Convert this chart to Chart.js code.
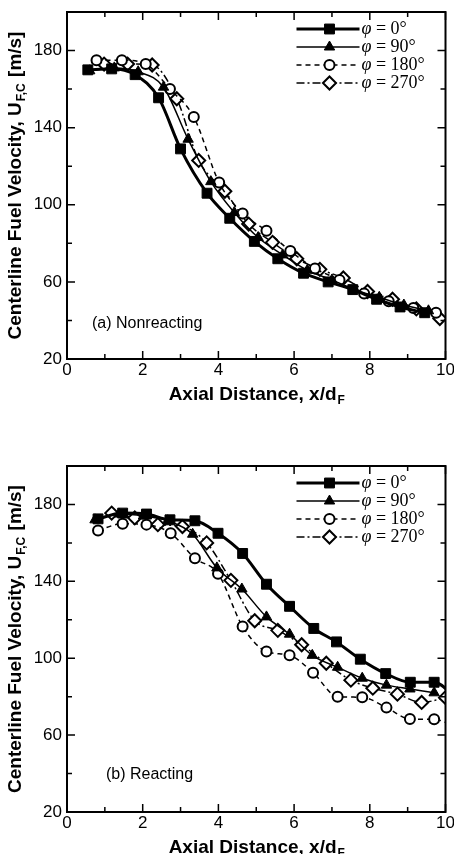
<!DOCTYPE html>
<html>
<head>
<meta charset="utf-8">
<script src="https://cdn.jsdelivr.net/npm/chart.js@4"></script>
<style>
  body { margin: 0; background: #fff; }
  .panel { position: absolute; left: 0; width: 454px; height: 427px; }
</style>
</head>
<body>
<div class="panel" style="top:0"><canvas id="chartA" width="454" height="427"></canvas></div>
<div class="panel" style="top:427px"><canvas id="chartB" width="454" height="427"></canvas></div>
<script>
const xTicks = [0, 2, 4, 6, 8, 10];
const xMinor = [1, 3, 5, 7, 9];
const yTicks = [20, 60, 100, 140, 180];
const yMinor = [40, 80, 120, 160];
const phi = ['0°', '90°', '180°', '270°'];

// (a) nonreacting
const xA0 = [0.55, 1.18, 1.8, 2.42, 3.0, 3.7, 4.3, 4.95, 5.57, 6.25, 6.9, 7.55, 8.18, 8.8, 9.45];
const uA0 = [170, 170.5, 167.5, 155.5, 129, 106, 93, 81, 72, 64.5, 60, 56, 51, 47, 44];
const xA90 = [0.6, 1.25, 1.88, 2.55, 3.2, 3.8, 4.42, 5.05, 5.7, 6.35, 7.0, 7.6, 8.25, 8.9, 9.55];
const uA90 = [169.5, 171, 169, 161, 134, 112, 96, 83, 74, 66, 61, 56, 52, 48, 45];
const xA180 = [0.78, 1.45, 2.08, 2.72, 3.35, 4.02, 4.64, 5.27, 5.9, 6.55, 7.2, 7.85, 8.5, 9.15, 9.75];
const uA180 = [175, 175, 173, 160, 145.5, 111.5, 95.5, 86.5, 76, 67, 61, 54, 50, 46.5, 44];
const xA270 = [0.98, 1.6, 2.25, 2.9, 3.48, 4.17, 4.8, 5.43, 6.07, 6.68, 7.3, 7.94, 8.6, 9.23, 9.85];
const uA270 = [173, 173, 172.5, 155, 123, 107, 90, 80.5, 72, 66.5, 62, 55, 51, 46, 41];

// (b) reacting
const xB0 = [0.82, 1.47, 2.1, 2.72, 3.38, 3.99, 4.64, 5.27, 5.88, 6.52, 7.12, 7.75, 8.42, 9.07, 9.7, 10.3];
const uB0 = [172.5, 175.5, 175, 172, 171.5, 165, 154.5, 138.5, 127, 115.5, 108.5, 99.5, 92, 87.5, 87.5, 79];
const xB90 = [0.74, 1.38, 2.02, 2.66, 3.32, 3.96, 4.62, 5.27, 5.88, 6.48, 7.15, 7.8, 8.44, 9.06, 9.7];
const uB90 = [172, 175, 174, 171.5, 164.5, 147, 136, 121.5, 112.5, 101.5, 95.3, 89.6, 86, 84, 82];
const xB180 = [0.82, 1.47, 2.1, 2.74, 3.38, 3.99, 4.64, 5.27, 5.88, 6.5, 7.15, 7.8, 8.44, 9.06, 9.7, 10.3];
const uB180 = [166.5, 170, 169.5, 165, 152, 144, 116.5, 103.5, 101.5, 92.5, 80, 79.7, 74.3, 68.4, 68.2, 64];
const xB270 = [1.18, 1.79, 2.4, 3.05, 3.69, 4.33, 4.96, 5.57, 6.2, 6.85, 7.5, 8.08, 8.73, 9.37, 10.0];
const uB270 = [175.5, 173, 169.5, 168.5, 160, 140.5, 119.5, 114.5, 107, 97.4, 88.6, 84.4, 81.3, 77, 79.5];

const series = [
  { style: 'rect', radius: 7, open: false, width: 3, dash: [] },
  { style: 'triangle', radius: 6, open: false, width: 1.5, dash: [] },
  { style: 'circle', radius: 5, open: true, width: 1.5, dash: [5, 4] },
  { style: 'rectRot', radius: 6.5, open: true, width: 1.5, dash: [8, 3, 2, 3] },
];

function makeDatasets(xs, ys) {
  return series.map((s, i) => ({
    label: 'φ = ' + phi[i],
    data: xs[i].map((x, j) => ({ x, y: ys[i][j] })),
    borderColor: '#000',
    borderWidth: s.width,
    borderDash: s.dash,
    cubicInterpolationMode: 'monotone',
    pointStyle: s.style,
    pointRadius: s.radius,
    pointHoverRadius: s.radius,
    pointBackgroundColor: s.open ? '#fff' : '#000',
    pointBorderColor: '#000',
    pointBorderWidth: s.open ? 2 : 1,
  }));
}

const decor = {
  id: 'decor',
  afterDraw(chart, args, opts) {
    const { ctx, chartArea: a, scales: { x, y } } = chart;
    ctx.save();
    ctx.strokeStyle = '#000';
    ctx.fillStyle = '#000';

    // inward ticks on all four sides
    ctx.lineWidth = 1.5;
    ctx.beginPath();
    const xt = (vals, len) => vals.forEach(v => {
      const px = x.getPixelForValue(v);
      ctx.moveTo(px, a.bottom); ctx.lineTo(px, a.bottom - len);
      ctx.moveTo(px, a.top); ctx.lineTo(px, a.top + len);
    });
    const yt = (vals, len) => vals.forEach(v => {
      const py = y.getPixelForValue(v);
      ctx.moveTo(a.left, py); ctx.lineTo(a.left + len, py);
      ctx.moveTo(a.right, py); ctx.lineTo(a.right - len, py);
    });
    xt(xTicks, 8); xt(xMinor, 5);
    yt(yTicks, 8); yt(yMinor, 5);
    ctx.stroke();

    ctx.lineWidth = 2;
    ctx.strokeRect(a.left, a.top, a.right - a.left, a.bottom - a.top);

    // legend (line + marker + label)
    chart.data.datasets.forEach((ds, i) => {
      const yy = a.top + 17 + i * 18;
      ctx.setLineDash(ds.borderDash);
      ctx.lineWidth = ds.borderWidth;
      ctx.beginPath();
      ctx.moveTo(a.right - 149, yy);
      ctx.lineTo(a.right - 86, yy);
      ctx.stroke();
      ctx.setLineDash([]);
      ctx.fillStyle = ds.pointBackgroundColor;
      ctx.lineWidth = ds.pointBorderWidth;
      Chart.helpers.drawPoint(ctx, {
        pointStyle: ds.pointStyle, radius: ds.pointRadius, rotation: 0, borderWidth: ds.pointBorderWidth
      }, a.right - 116, yy);
      ctx.fillStyle = '#000';
      ctx.textBaseline = 'middle';
      ctx.textAlign = 'left';
      ctx.font = 'italic 18px "Liberation Serif"';
      ctx.fillText('φ', a.right - 84, yy);
      const w = ctx.measureText('φ').width;
      ctx.font = '18px "Liberation Serif"';
      ctx.fillText(' = ' + phi[i], a.right - 84 + w, yy);
    });

    // panel note
    ctx.font = '16px "Liberation Sans"';
    ctx.textBaseline = 'middle';
    ctx.fillText(opts.note, opts.noteX, opts.noteY);

    // x title with subscript
    const big = 'bold 19px "Liberation Sans"', small = 'bold 12px "Liberation Sans"';
    ctx.font = big;
    const xMain = 'Axial Distance, x/d';
    const w1 = ctx.measureText(xMain).width;
    ctx.font = small;
    const w2 = ctx.measureText('F').width;
    let sx = (a.left + a.right) / 2 - (w1 + w2) / 2;
    const ty = a.bottom + 36;
    ctx.font = big; ctx.fillText(xMain, sx, ty);
    ctx.font = small; ctx.fillText('F', sx + w1 + 1, ty + 6);

    // y title with subscript, rotated
    const p1 = 'Centerline Fuel Velocity, U', p2 = 'F,C', p3 = ' [m/s]';
    ctx.font = big;
    const a1 = ctx.measureText(p1).width, a3 = ctx.measureText(p3).width;
    ctx.font = small;
    const a2 = ctx.measureText(p2).width + 2;
    ctx.translate(16, (a.top + a.bottom) / 2);
    ctx.rotate(-Math.PI / 2);
    let tx = -(a1 + a2 + a3) / 2;
    ctx.font = big; ctx.fillText(p1, tx, 0);
    ctx.font = small; ctx.fillText(p2, tx + a1 + 1, 6);
    ctx.font = big; ctx.fillText(p3, tx + a1 + a2, 0);
    ctx.restore();
  }
};

function makeChart(id, xs, ys, cfg) {
  return new Chart(document.getElementById(id), {
    type: 'line',
    data: { datasets: makeDatasets(xs, ys) },
    options: {
      responsive: false,
      animation: false,
      events: [],
      layout: { padding: { top: cfg.top, right: 8, bottom: 0, left: 0 } },
      plugins: {
        legend: { display: false },
        tooltip: { enabled: false },
        decor: { note: cfg.note, noteX: cfg.noteX, noteY: cfg.noteY },
      },
      scales: {
        x: {
          type: 'linear',
          min: 0,
          max: 10,
          grid: { display: false, drawTicks: false },
          border: { display: false },
          ticks: { color: '#000', font: { family: 'Liberation Sans', size: 17 }, padding: 1, maxRotation: 0, autoSkip: false },
          afterBuildTicks: s => { s.ticks = xTicks.map(v => ({ value: v })); },
          afterFit: s => { s.height = cfg.xh; s.paddingLeft = 0; s.paddingRight = 0; },
        },
        y: {
          min: 20,
          max: 200,
          grid: { display: false, drawTicks: false },
          border: { display: false },
          ticks: { color: '#000', font: { family: 'Liberation Sans', size: 17 }, padding: 5 },
          afterBuildTicks: s => { s.ticks = yTicks.map(v => ({ value: v })); },
          afterFit: s => { s.width = 67; s.paddingTop = 0; s.paddingBottom = 0; },
        },
      },
    },
    plugins: [decor],
  });
}

makeChart('chartA', [xA0, xA90, xA180, xA270], [uA0, uA90, uA180, uA270],
  { top: 12, xh: 68, note: '(a) Nonreacting', noteX: 92, noteY: 324 });
makeChart('chartB', [xB0, xB90, xB180, xB270], [uB0, uB90, uB180, uB270],
  { top: 39, xh: 42, note: '(b) Reacting', noteX: 106, noteY: 348 });
</script>
</body>
</html>
